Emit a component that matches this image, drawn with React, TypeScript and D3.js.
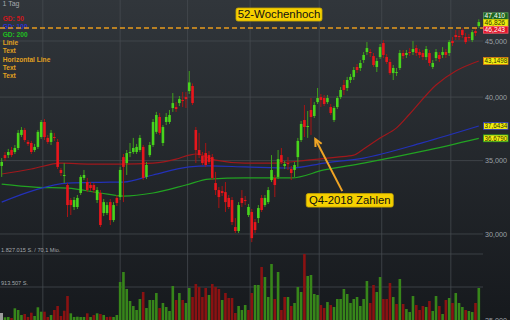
import React from 'react';
import * as d3 from 'd3';

const W = 510;
const H = 320;

// Daily candles (EUR), oldest first
const opens = [34.61,35.41,35.41,35.79,35.64,35.94,36.94,37.33,36.40,36.32,35.79,36.02,36.78,37.96,36.71,36.40,36.78,36.40,34.32,33.89,33.25,32.22,31.75,31.75,32.70,33.75,33.46,33.25,33.25,32.22,32.70,31.35,31.35,32.08,30.89,32.36,32.42,35.26,34.82,35.56,35.64,35.64,35.79,36.02,33.82,35.41,36.17,37.18,38.36,36.32,37.96,37.96,39.09,39.17,39.50,39.75,40.00,40.51,40.94,37.33,35.79,35.34,35.56,35.41,35.26,33.39,32.90,32.83,32.76,32.36,32.22,30.44,30.19,32.36,32.22,31.22,31.42,30.76,31.02,32.36,31.88,32.08,33.60,33.75,33.82,35.41,34.61,34.82,34.39,34.32,35.26,36.55,38.12,37.56,38.93,38.44,39.58,40.00,39.92,39.58,39.17,38.12,39.17,40.00,41.03,40.77,41.46,41.73,42.61,42.52,43.24,43.97,43.97,43.60,42.61,43.51,44.81,43.51,43.06,42.07,42.07,42.52,43.88,43.70,43.97,43.97,44.34,43.97,43.88,43.51,43.88,42.61,43.42,43.70,43.70,43.97,43.88,45.00,45.57,45.47,46.05,45.38,45.38,45.09,45.95,46.44];
const highs = [35.19,35.64,35.87,36.02,36.17,37.33,37.56,37.49,36.55,36.48,36.25,37.33,38.12,38.20,36.94,37.33,37.10,36.63,34.46,34.82,33.39,32.36,32.42,32.56,33.96,34.32,33.75,33.46,33.39,33.11,32.90,32.29,32.08,32.29,32.08,32.56,34.54,35.49,35.79,36.32,36.71,36.25,36.94,36.17,34.90,36.40,38.20,38.77,38.68,37.72,38.68,38.93,40.34,39.58,40.09,40.43,40.43,42.25,41.16,37.56,37.10,35.64,36.32,35.71,35.49,34.18,33.11,33.18,33.46,32.56,32.42,31.02,32.08,32.90,32.49,31.95,31.62,30.96,31.88,32.56,32.56,33.11,35.41,33.96,35.79,35.94,34.97,35.26,34.61,34.90,36.71,38.04,39.34,38.85,39.92,39.58,40.77,40.26,40.17,40.17,39.42,39.25,40.09,40.85,41.46,41.73,41.99,42.61,42.88,43.24,43.97,44.90,44.25,43.88,43.42,44.72,45.09,43.79,43.33,42.79,42.52,44.16,44.16,44.16,44.34,45.00,44.62,44.25,44.16,44.53,44.16,43.24,44.25,43.97,44.43,44.25,45.09,45.38,46.05,46.05,46.243,45.76,45.66,46.05,46.15,47.10];
const lows = [33.82,34.97,35.19,35.26,35.49,35.79,36.78,36.40,36.09,35.49,35.64,35.87,36.63,36.55,36.25,36.17,36.48,34.39,33.89,33.39,31.09,31.22,31.55,31.62,32.56,33.60,32.76,32.83,32.70,32.02,30.44,31.15,31.22,30.57,30.76,31.82,32.22,32.08,33.96,35.26,35.49,35.49,35.64,33.60,33.67,35.26,36.02,37.02,36.94,36.09,37.72,37.80,38.77,38.77,39.25,39.17,39.09,40.26,39.34,34.82,35.19,34.68,34.54,34.75,33.60,32.56,31.68,32.49,31.42,31.62,30.57,30.06,30.06,31.75,31.88,31.09,29.49,30.06,30.70,31.42,31.75,31.95,33.46,32.42,33.67,34.75,34.39,34.32,33.60,33.82,34.54,36.40,36.78,36.71,36.94,38.28,39.42,39.17,39.25,39.42,38.52,37.96,39.01,39.83,40.17,40.51,41.20,41.46,42.07,42.25,42.97,43.70,43.51,42.61,42.16,43.33,43.42,42.88,41.90,41.46,41.81,42.34,43.33,43.42,43.60,43.70,43.60,43.42,43.24,43.24,42.70,42.43,43.15,43.06,43.42,43.42,43.60,44.53,45.09,45.09,45.28,44.72,45.00,44.90,45.47,46.24];
const closes = [34.90,35.19,35.64,35.41,35.94,37.10,37.33,36.55,36.25,35.64,36.02,37.18,37.96,36.78,36.40,37.10,36.71,34.54,34.10,33.96,31.88,31.88,32.22,32.36,33.82,33.96,32.90,33.04,32.90,32.90,30.57,32.08,31.88,30.89,31.88,32.02,34.32,34.54,35.56,35.64,35.94,36.02,36.71,33.75,34.68,36.17,37.96,38.52,37.10,37.56,38.36,38.52,39.50,39.01,39.83,39.67,39.83,41.25,39.50,35.79,35.41,34.82,34.68,34.90,33.75,32.90,32.42,32.70,32.08,31.75,30.76,30.19,31.88,32.02,32.15,31.75,29.74,30.25,31.68,31.55,32.36,32.90,34.32,33.25,35.11,34.90,34.75,34.75,34.10,34.68,36.48,37.80,37.56,37.64,38.36,39.34,39.92,39.75,39.42,39.92,38.68,39.09,39.92,40.60,40.60,41.46,41.73,42.34,42.34,42.97,43.70,44.34,43.88,42.79,43.15,44.43,43.70,43.06,42.07,42.52,42.16,43.88,43.60,43.88,43.88,44.25,43.88,43.70,43.51,44.25,42.97,42.97,43.97,43.33,43.97,43.70,44.90,44.81,45.38,45.38,45.57,44.90,45.28,45.85,45.76,46.826];
// Volume in thousand shares
const volumes = [83,75,83,55,324,277,138,166,83,202,111,352,230,230,83,138,277,388,111,257,664,185,83,91,83,83,185,83,138,185,166,138,83,91,83,138,1052,1329,858,526,388,277,581,775,332,554,554,747,332,471,360,249,941,554,747,554,471,886,637,996,913,637,886,692,996,913,858,554,747,609,609,194,388,277,415,277,747,969,969,1467,1190,637,1550,581,1329,277,637,637,388,471,913,775,1827.015,1218,1246,720,692,415,332,498,415,360,581,581,858,720,471,581,637,388,581,1080,471,969,775,1190,581,581,1024,637,443,1135,443,304,221,664,415,277,388,360,526,249,664,388,166,554,609,471,747,471,360,277,249,221,471,886];

// Moving averages sampled at candle indices [index, value]
const gd50: [number, number][] = [[0,34.03],[9,34.39],[18,34.82],[27,34.75],[36,34.75],[46,34.82],[53,35.11],[57,35.41],[59,35.49],[65,35.04],[74,34.82],[83,34.82],[93,35.04],[102,35.26],[107,35.41],[110,35.87],[115,36.71],[120,37.49],[124,38.6],[132,41.03],[138,42.25],[145,43.1498]];
const gd100: [number, number][] = [[0,32.08],[10,32.9],[20,33.39],[30,33.44],[37,33.46],[46,33.96],[57,34.54],[63,34.61],[74,34.54],[88,34.46],[98,34.82],[110,35.19],[128,36.35],[145,37.6434]];
const gd200: [number, number][] = [[0,33.32],[10,33.11],[20,33.04],[30,32.7],[37,32.49],[46,32.7],[56,33.25],[63,33.67],[74,33.75],[88,33.75],[98,34.32],[110,34.82],[128,35.7],[145,36.679]];

const monthStarts = [12.5, 36, 56.5, 75.5, 96.5, 115.5, 136.5];
const priceTicks = [45, 40, 35, 30, 25];
const volumeTicks = [1827.015, 913.507];
const volumeTickLabels = ['1.827.015 S. / 70,1 Mio.', '913.507 S.'];
const high52 = 46.243;

const valueTags = [
  { value: 47.41, dec: 3, fill: '#1d651d', stroke: '#5b9b5b', color: '#ffffff' },
  { value: 46.826, dec: 3, fill: '#ecec10', stroke: '#c8c800', color: '#333300' },
  { value: 46.243, dec: 3, fill: '#e0142a', stroke: '#ff6070', color: '#ffffff' },
  { value: 43.1498, dec: 4, fill: '#f2ee10', stroke: '#e07a10', color: '#333300' },
  { value: 37.6434, dec: 4, fill: '#f2ee10', stroke: '#2838c8', color: '#333300' },
  { value: 36.679, dec: 4, fill: '#f2ee10', stroke: '#22a822', color: '#333300' },
];

const legend = [
  { text: 'GD: 50', color: '#d0161c' },
  { text: 'GD: 100', color: '#2a30d0' },
  { text: 'GD: 200', color: '#20c020' },
  { text: 'Linie', color: '#e0a020' },
  { text: 'Text', color: '#e0a020' },
  { text: 'Horizontal Line', color: '#e0a020' },
  { text: 'Text', color: '#e0a020' },
  { text: 'Text', color: '#e0a020' },
];

const FONT = '"Liberation Sans", Arial, sans-serif';
const fmt = (v: number, d: number) => v.toFixed(d).replace('.', ',');

export default function App() {
  const plotRight = 483;
  const n = opens.length;
  const xs = d3.scaleLinear().domain([0, n - 1]).range([1.7, 478.8]);
  const ys = d3.scaleLog().domain([25.04, 49.05]).range([H, 0]);
  const yv = d3.scaleLinear().domain([0, 1827.015]).range([H, 254]);
  const bw = 2.6;

  const line = d3
    .line<[number, number]>()
    .x((d) => xs(d[0]))
    .y((d) => ys(d[1]))
    .curve(d3.curveMonotoneX);

  // stacked value tags
  const tagH = 6.8;
  let prevBottom = -Infinity;
  const tags = valueTags
    .map((t) => ({ ...t, cy: ys(t.value) }))
    .sort((a, b) => a.cy - b.cy)
    .map((t) => {
      let top = t.cy - tagH / 2;
      if (top < prevBottom) top = prevBottom;
      prevBottom = top + tagH;
      return { ...t, top };
    });

  // Q4 annotation arrow (data coordinates)
  const tip = { x: xs(95.3), y: ys(36.63) };
  const tail = { x: xs(103.5), y: ys(32.83) };
  const ang = Math.atan2(tip.y - tail.y, tip.x - tail.x);
  const ah = 8;
  const a1 = { x: tip.x - ah * Math.cos(ang - 0.45), y: tip.y - ah * Math.sin(ang - 0.45) };
  const a2 = { x: tip.x - ah * Math.cos(ang + 0.45), y: tip.y - ah * Math.sin(ang + 0.45) };

  const hy = ys(high52);

  return (
    <svg
      width={W}
      height={H}
      style={{ position: 'fixed', left: 0, top: 0, display: 'block' }}
      fontFamily={FONT}
    >
      <defs>
        <linearGradient id="bg" x1="0" y1="0" x2="0" y2="1">
          <stop offset="0" stopColor="#31363b" />
          <stop offset="1" stopColor="#16191d" />
        </linearGradient>
      </defs>
      <rect x={0} y={0} width={W} height={H} fill="url(#bg)" />

      {/* grid */}
      {monthStarts.map((m, i) => (
        <line key={'v' + i} x1={xs(m)} x2={xs(m)} y1={0} y2={H} stroke="#474c52" strokeOpacity={0.75} strokeWidth={1} />
      ))}
      {priceTicks.map((p, i) => (
        <line key={'h' + i} x1={0} x2={plotRight} y1={ys(p)} y2={ys(p)} stroke="#474c52" strokeOpacity={0.75} strokeWidth={1} />
      ))}
      {volumeTicks.map((v, i) => (
        <line key={'vh' + i} x1={0} x2={plotRight} y1={yv(v)} y2={yv(v)} stroke="#474c52" strokeOpacity={0.75} strokeWidth={1} />
      ))}

      {/* volume */}
      {volumes.map((v, i) => {
        const up = i === 0 ? closes[0] >= opens[0] : closes[i] >= closes[i - 1];
        return (
          <rect
            key={'vol' + i}
            x={xs(i) - bw / 2}
            y={yv(v)}
            width={bw}
            height={H - yv(v)}
            fill={up ? '#37861a' : '#8a1212'}
          />
        );
      })}
      <rect x={0} y={313} width={3} height={7} fill="#9c9c9c" />
      {volumeTicks.map((v, i) => (
        <text key={'vl' + i} x={1} y={yv(v) - 2} fontSize={5.6} fill="#a4a8ad">
          {volumeTickLabels[i]}
        </text>
      ))}

      {/* moving averages */}
      <path d={line(gd200) || ''} fill="none" stroke="#22a322" strokeWidth={1.2} />
      <path d={line(gd100) || ''} fill="none" stroke="#2331b8" strokeWidth={1.2} />
      <path d={line(gd50) || ''} fill="none" stroke="#a0181c" strokeWidth={1.2} />

      {/* candles */}
      {opens.map((o, i) => {
        const c = closes[i];
        const up = c >= o;
        const x = xs(i);
        const top = ys(Math.max(o, c));
        const bot = ys(Math.min(o, c));
        return (
          <g key={'c' + i}>
            <line x1={x} x2={x} y1={ys(highs[i])} y2={ys(lows[i])} stroke={up ? '#3fa01c' : '#a81414'} strokeWidth={1} />
            <rect x={x - bw / 2} y={top} width={bw} height={Math.max(1, bot - top)} fill={up ? '#48d41c' : '#e8161c'} />
          </g>
        );
      })}

      {/* legend */}
      <text x={2.5} y={6} fontSize={7} fill="#a4a8ad">1 Tag</text>
      {legend.map((l, i) => (
        <text key={'lg' + i} x={2.7} y={21 + i * 8.1} fontSize={6.6} fill={l.color} fontWeight="bold">
          {l.text}
        </text>
      ))}

      {/* 52-week high line */}
      <line x1={0} x2={plotRight} y1={hy} y2={hy} stroke="#e89a1c" strokeWidth={1.5} strokeDasharray="5,3" />
      <rect x={236} y={hy - 20} width={86} height={13} rx={2} fill="#f6d000" stroke="#c9a800" strokeWidth={0.8} />
      <text x={279} y={hy - 9.6} fontSize={11.4} fill="#111" textAnchor="middle">52-Wochenhoch</text>

      {/* Q4 annotation */}
      <line x1={tail.x} y1={tail.y} x2={tip.x} y2={tip.y} stroke="#f0a424" strokeWidth={2} />
      <path d={`M${a1.x},${a1.y}L${tip.x},${tip.y}L${a2.x},${a2.y}`} fill="none" stroke="#f0a424" strokeWidth={2} />
      <rect x={tail.x - 36} y={tail.y + 2.5} width={87} height={13.5} rx={2} fill="#f6d000" stroke="#c9a800" strokeWidth={0.8} />
      <text x={tail.x + 7.5} y={tail.y + 13.3} fontSize={11.3} fill="#111" textAnchor="middle">Q4-2018 Zahlen</text>

      {/* price axis labels */}
      {priceTicks.map((p, i) => (
        <text key={'pl' + i} x={485} y={ys(p) + 2.6} fontSize={7.2} fill="#9ca1a7">
          {fmt(p, 3)}
        </text>
      ))}

      {/* value tags */}
      {tags.map((t, i) => (
        <g key={'tg' + i}>
          <rect x={483.5} y={t.top} width={24.5} height={tagH} fill={t.fill} stroke={t.stroke} strokeWidth={0.8} />
          <text
            x={484.6}
            y={t.top + tagH - 1.2}
            fontSize={6.4}
            fill={t.color}
            textLength={t.dec === 4 ? 22.6 : 20.5}
            lengthAdjust="spacingAndGlyphs"
          >
            {fmt(t.value, t.dec)}
          </text>
        </g>
      ))}
    </svg>
  );
}
